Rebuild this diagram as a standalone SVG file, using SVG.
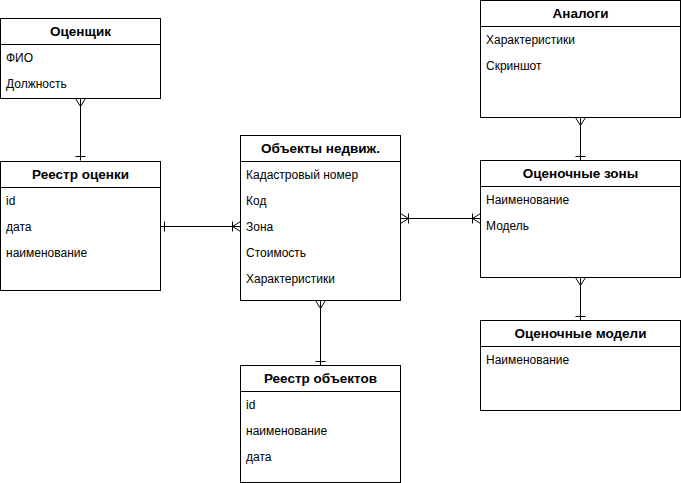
<svg xmlns="http://www.w3.org/2000/svg" width="681" height="483" viewBox="0 0 681 483">
<style>
.box{fill:#fff;stroke:#000;stroke-width:1}
.sep{stroke:#000;stroke-width:1}
.h{font-family:"Liberation Sans",Arial,sans-serif;font-size:13.5px;font-weight:bold;text-anchor:middle;fill:#000}
.r{font-family:"Liberation Sans",Arial,sans-serif;font-size:12px;fill:#000}
.c{fill:none;stroke:#000;stroke-width:1}
</style>
<defs>
<marker id="many" markerUnits="userSpaceOnUse" viewBox="-15 -10 20 20" refX="0" refY="0" markerWidth="20" markerHeight="20" orient="auto-start-reverse" overflow="visible">
<path d="M0,-5 L-8,0 L0,5" fill="none" stroke="#000" stroke-width="1"/>
</marker>
<marker id="oneMany" markerUnits="userSpaceOnUse" viewBox="-15 -10 20 20" refX="0" refY="0" markerWidth="20" markerHeight="20" orient="auto-start-reverse" overflow="visible">
<path d="M0,-5 L-8,0 L0,5 M-8,-5 V5" fill="none" stroke="#000" stroke-width="1"/>
</marker>
<marker id="one" markerUnits="userSpaceOnUse" viewBox="-15 -10 20 20" refX="0" refY="0" markerWidth="20" markerHeight="20" orient="auto-start-reverse" overflow="visible">
<path d="M-4,-5 V5" fill="none" stroke="#000" stroke-width="1"/>
</marker>
</defs>
<rect width="681" height="483" fill="#fff"/>
<g id="connectors">
<path class="c" d="M80.5,98.5 V160.5" marker-start="url(#many)" marker-end="url(#one)"/>
<path class="c" d="M160.5,226.5 H240.5" marker-start="url(#one)" marker-end="url(#oneMany)"/>
<path class="c" d="M400.5,218.5 H480.5" marker-start="url(#oneMany)" marker-end="url(#oneMany)"/>
<path class="c" d="M320.5,300.5 V365.5" marker-start="url(#many)" marker-end="url(#one)"/>
<path class="c" d="M580.5,117.5 V160.5" marker-start="url(#many)" marker-end="url(#one)"/>
<path class="c" d="M580.5,277.5 V320.5" marker-start="url(#many)" marker-end="url(#one)"/>
</g>
<g id="ocenshik">
<rect class="box" x="0.5" y="18.5" width="160" height="80"/>
<line class="sep" x1="0.5" y1="44.5" x2="160.5" y2="44.5"/>
<text class="h" x="80.5" y="36">Оценщик</text>
<text class="r" x="6" y="62">ФИО</text>
<text class="r" x="6" y="88">Должность</text>
</g>
<g id="reestr-ocenki">
<rect class="box" x="0.5" y="161.5" width="160" height="129"/>
<line class="sep" x1="0.5" y1="187.5" x2="160.5" y2="187.5"/>
<text class="h" x="80.5" y="179">Реестр оценки</text>
<text class="r" x="6" y="205">id</text>
<text class="r" x="6" y="231">дата</text>
<text class="r" x="6" y="257">наименование</text>
</g>
<g id="obekty">
<rect class="box" x="240.5" y="135.5" width="160" height="165"/>
<line class="sep" x1="240.5" y1="161.5" x2="400.5" y2="161.5"/>
<text class="h" x="320.5" y="153">Объекты недвиж.</text>
<text class="r" x="246" y="179">Кадастровый номер</text>
<text class="r" x="246" y="205">Код</text>
<text class="r" x="246" y="231">Зона</text>
<text class="r" x="246" y="257">Стоимость</text>
<text class="r" x="246" y="283">Характеристики</text>
</g>
<g id="reestr-obektov">
<rect class="box" x="240.5" y="365.5" width="160" height="117"/>
<line class="sep" x1="240.5" y1="391.5" x2="400.5" y2="391.5"/>
<text class="h" x="320.5" y="383">Реестр объектов</text>
<text class="r" x="246" y="409">id</text>
<text class="r" x="246" y="435">наименование</text>
<text class="r" x="246" y="461">дата</text>
</g>
<g id="analogi">
<rect class="box" x="480.5" y="0.5" width="200" height="117"/>
<line class="sep" x1="480.5" y1="26.5" x2="680.5" y2="26.5"/>
<text class="h" x="580.5" y="18">Аналоги</text>
<text class="r" x="486" y="44">Характеристики</text>
<text class="r" x="486" y="70">Скриншот</text>
</g>
<g id="zony">
<rect class="box" x="480.5" y="160.5" width="200" height="117"/>
<line class="sep" x1="480.5" y1="186.5" x2="680.5" y2="186.5"/>
<text class="h" x="580.5" y="178">Оценочные зоны</text>
<text class="r" x="486" y="204">Наименование</text>
<text class="r" x="486" y="230">Модель</text>
</g>
<g id="modeli">
<rect class="box" x="480.5" y="320.5" width="200" height="90"/>
<line class="sep" x1="480.5" y1="346.5" x2="680.5" y2="346.5"/>
<text class="h" x="580.5" y="338">Оценочные модели</text>
<text class="r" x="486" y="364">Наименование</text>
</g>
</svg>
